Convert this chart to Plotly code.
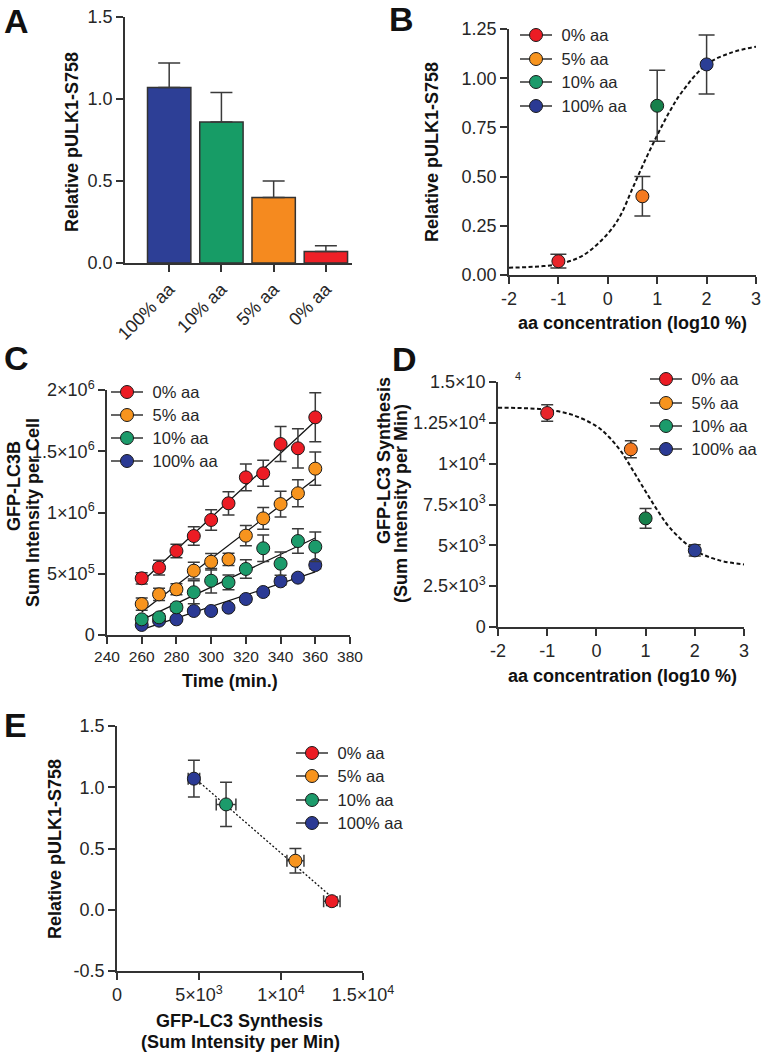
import plotly.graph_objects as go

W, H = 762, 1053
FONT = "Liberation Sans"
INK = "#262626"
AX = "#333333"

# ---------------- data ----------------
conditions = ["0% aa", "5% aa", "10% aa", "100% aa"]
aa_log10 = [-1, 0.7, 1, 2]
colors = ["#EC1C24", "#F7941E", "#1C9B6B", "#2B3A94"]
colors_dark = ["#E8262B", "#F47A20", "#17804B", "#2B3E95"]

# Panel A (bar order)
bar_categories = ["100% aa", "10% aa", "5% aa", "0% aa"]
bar_colors = ["#2D3F96", "#179C66", "#F58A1F", "#EE2027"]
pulk_bar_mean = [1.07, 0.86, 0.40, 0.07]
pulk_bar_sem = [0.15, 0.18, 0.10, 0.035]

# pULK1 by condition (0,5,10,100)
pulk_mean = [0.07, 0.40, 0.86, 1.07]
pulk_sem = [0.035, 0.10, 0.18, 0.15]

# Panel B fitted curve
curveB_x = [-2, -1.5, -1, -0.5, 0, 0.25, 0.5, 0.75, 1, 1.25, 1.5, 2, 2.5, 3]
curveB_y = [0.037, 0.042, 0.055, 0.10, 0.21, 0.30, 0.44, 0.58, 0.71, 0.83, 0.93, 1.07, 1.13, 1.16]

# Panel C time course
time_min = [260, 270, 280, 290, 300, 310, 320, 330, 340, 350, 360]
gfp_0 = [0.463e6, 0.55e6, 0.686e6, 0.808e6, 0.939e6, 1.075e6, 1.287e6, 1.32e6, 1.559e6, 1.524e6, 1.777e6]
gfp_5 = [0.253e6, 0.332e6, 0.373e6, 0.525e6, 0.598e6, 0.618e6, 0.811e6, 0.952e6, 1.069e6, 1.157e6, 1.358e6]
gfp_10 = [0.128e6, 0.144e6, 0.226e6, 0.349e6, 0.443e6, 0.43e6, 0.539e6, 0.708e6, 0.582e6, 0.767e6, 0.721e6]
gfp_100 = [0.082e6, 0.117e6, 0.128e6, 0.196e6, 0.196e6, 0.223e6, 0.294e6, 0.351e6, 0.438e6, 0.468e6, 0.571e6]
sem_0 = [0.046e6, 0.06e6, 0.055e6, 0.075e6, 0.084e6, 0.095e6, 0.109e6, 0.106e6, 0.143e6, 0.16e6, 0.2e6]
sem_5 = [0.05e6, 0.05e6, 0.045e6, 0.068e6, 0.068e6, 0.05e6, 0.082e6, 0.088e6, 0.105e6, 0.11e6, 0.135e6]
sem_10 = [0.03e6, 0.03e6, 0.03e6, 0.093e6, 0.1e6, 0.06e6, 0.075e6, 0.108e6, 0.095e6, 0.1e6, 0.12e6]
sem_100 = [0.015e6, 0.015e6, 0.015e6, 0.02e6, 0.02e6, 0.02e6, 0.025e6, 0.025e6, 0.03e6, 0.02e6, 0.03e6]
fit_time = [260, 360]
fit_0 = [0.433e6, 1.747e6]
fit_5 = [0.187e6, 1.276e6]
fit_10 = [0.124e6, 0.792e6]
fit_100 = [0.043e6, 0.515e6]

# Panel D synthesis rate
synth_mean = [13100, 10880, 6650, 4690]
synth_sem = [500, 520, 600, 350]
curveD_x = [-2, -1.5, -1, -0.5, 0, 0.25, 0.5, 0.75, 1, 1.25, 1.5, 2, 2.5, 3]
curveD_y = [13430, 13400, 13300, 13000, 12300, 11650, 10750, 9550, 8300, 7100, 6050, 4700, 4080, 3830]

# Panel E linear fit (read)
fitE_x = [4690, 13120]
fitE_y = [1.08, 0.10]

# tick labels
A_yticks = [0, 0.5, 1.0, 1.5]
A_yticktext = ["0.0", "0.5", "1.0", "1.5"]
log_ticks = [-2, -1, 0, 1, 2, 3]
log_ticktext = ["-2", "-1", "0", "1", "2", "3"]
B_yticks = [0, 0.25, 0.5, 0.75, 1.0, 1.25]
B_yticktext = ["0.00", "0.25", "0.50", "0.75", "1.00", "1.25"]
C_xticks = [240, 260, 280, 300, 320, 340, 360, 380]
C_yticks = [0, 5e5, 1e6, 1.5e6, 2e6]
C_yticktext = ["0", "5×10<sup>5</sup>", "1×10<sup>6</sup>", "1.5×10<sup>6</sup>", "2×10<sup>6</sup>"]
D_yticks = [0, 2500, 5000, 7500, 10000, 12500, 15000]
D_yticktext = ["0", "2.5×10<sup>3</sup>", "5×10<sup>3</sup>", "7.5×10<sup>3</sup>",
               "1×10<sup>4</sup>", "1.25×10<sup>4</sup>", "1.5×10"]
E_xticks = [0, 5000, 10000, 15000]
E_xticktext = ["0", "5×10<sup>3</sup>", "1×10<sup>4</sup>", "1.5×10<sup>4</sup>"]
E_yticks = [-0.5, 0, 0.5, 1.0, 1.5]
E_yticktext = ["-0.5", "0.0", "0.5", "1.0", "1.5"]

# ---------------- helpers ----------------
def px(x):
    return x / W

def py(y):
    return 1 - y / H

TICK_FS = 18
TICKF = dict(family=FONT, size=TICK_FS, color=INK)

def axis(dom, **kw):
    d = dict(domain=dom, showline=True, linecolor=AX, linewidth=1.5, ticks="outside",
             ticklen=7, tickwidth=1.5, tickcolor=AX, showgrid=False, zeroline=False,
             tickfont=TICKF, fixedrange=True, automargin=False)
    d.update(kw)
    return d

MK_LINE = dict(color="#1a1a1a", width=1)
ERR = dict(color="#3a3a3a", thickness=1.5)

fig = go.Figure()
legend_slots = []  # (legend id, marker x px, marker y px)
leg_counter = [0]

def legend_entry(xa, ya, i, mx, my):
    leg_counter[0] += 1
    n = leg_counter[0]
    lid = "legend" if n == 1 else "legend%d" % n
    legend_slots.append((lid, mx, my))
    fig.add_trace(go.Scatter(
        x=[None], y=[None], mode="lines+markers", xaxis=xa, yaxis=ya,
        name="\u00a0" + conditions[i],
        marker=dict(size=13, color=colors[i], line=MK_LINE),
        line=dict(color="#333", width=1.5), legend=lid))

# ---------------- Panel A ----------------
fig.add_trace(go.Bar(
    x=bar_categories, y=pulk_bar_mean, xaxis="x", yaxis="y",
    marker=dict(color=bar_colors, line=dict(color="#333333", width=1.5)),
    error_y=dict(type="data", array=pulk_bar_sem, arrayminus=[0] * 4, width=11, **ERR),
    showlegend=False, width=0.83))

# ---------------- Panel B ----------------
fig.add_trace(go.Scatter(x=curveB_x, y=curveB_y, mode="lines", xaxis="x2", yaxis="y2",
                         line=dict(color="#111", width=2, dash="4px,2.5px", shape="spline"),
                         showlegend=False))
for i, c in enumerate(conditions):
    fig.add_trace(go.Scatter(
        x=[aa_log10[i]], y=[pulk_mean[i]], mode="markers", xaxis="x2", yaxis="y2",
        marker=dict(size=13, color=colors_dark[i], line=MK_LINE),
        error_y=dict(type="data", array=[pulk_sem[i]], width=8, **ERR),
        showlegend=False, cliponaxis=False))
for i, my in enumerate([35, 59, 82, 106]):
    legend_entry("x2", "y2", i, 536, my)

# ---------------- Panel C ----------------
series = [gfp_0, gfp_5, gfp_10, gfp_100]
sems = [sem_0, sem_5, sem_10, sem_100]
fits = [fit_0, fit_5, fit_10, fit_100]
for i in range(4):
    fig.add_trace(go.Scatter(x=fit_time, y=fits[i], mode="lines", xaxis="x3", yaxis="y3",
                             line=dict(color="#111", width=1.3), showlegend=False))
for i in [3, 2, 1, 0]:
    fig.add_trace(go.Scatter(
        x=time_min, y=series[i], mode="markers", xaxis="x3", yaxis="y3",
        marker=dict(size=13, color=colors[i], line=MK_LINE),
        error_y=dict(type="data", array=sems[i], width=6, **ERR),
        showlegend=False, cliponaxis=False))
for i, my in enumerate([392, 415, 438, 461]):
    legend_entry("x3", "y3", i, 127, my)

# ---------------- Panel D ----------------
fig.add_trace(go.Scatter(x=curveD_x, y=curveD_y, mode="lines", xaxis="x4", yaxis="y4",
                         line=dict(color="#111", width=2, dash="4px,2.5px", shape="spline"),
                         showlegend=False))
for i, c in enumerate(conditions):
    fig.add_trace(go.Scatter(
        x=[aa_log10[i]], y=[synth_mean[i]], mode="markers", xaxis="x4", yaxis="y4",
        marker=dict(size=13, color=colors_dark[i], line=MK_LINE),
        error_y=dict(type="data", array=[synth_sem[i]], width=6, **ERR),
        showlegend=False, cliponaxis=False))
for i, my in enumerate([379, 403, 426, 449]):
    legend_entry("x4", "y4", i, 666, my)

# ---------------- Panel E ----------------
fig.add_trace(go.Scatter(x=fitE_x, y=fitE_y, mode="lines", xaxis="x5", yaxis="y5",
                         line=dict(color="#111", width=1.3, dash="2px,2px"), showlegend=False))
for i, c in enumerate(conditions):
    fig.add_trace(go.Scatter(
        x=[synth_mean[i]], y=[pulk_mean[i]], mode="markers", xaxis="x5", yaxis="y5",
        marker=dict(size=13, color=colors[i], line=MK_LINE),
        error_y=dict(type="data", array=[pulk_sem[i]], width=6, **ERR),
        error_x=dict(type="data", array=[synth_sem[i]], width=6, **ERR),
        showlegend=False, cliponaxis=False))
for i, my in enumerate([753, 776, 800, 823]):
    legend_entry("x5", "y5", i, 312, my)

# ---------------- layout ----------------
LEG_FS = 16.5
LEGF = dict(family=FONT, size=LEG_FS, color=INK)
ITEMW = 32
item_h = LEG_FS * 1.3 + 3
legends = {}
for lid, mx, my in legend_slots:
    legends[lid] = dict(x=px(mx - (ITEMW + 10) / 2), y=py(my - 5 - item_h / 2),
                        xanchor="left", yanchor="top", font=LEGF,
                        bgcolor="rgba(0,0,0,0)", borderwidth=0, itemwidth=ITEMW)

fig.update_layout(
    width=W, height=H, margin=dict(l=0, r=0, t=0, b=0, autoexpand=False),
    paper_bgcolor="white", plot_bgcolor="white",
    font=dict(family=FONT, color=INK),
    bargap=0.17,
    xaxis=axis([px(125), px(352)], type="category", range=[-0.846, 3.5], tickangle=-45,
               anchor="y", categoryorder="array", categoryarray=bar_categories),
    yaxis=axis([py(263), py(17)], range=[0, 1.5], tickvals=A_yticks, ticktext=A_yticktext,
               anchor="x"),
    xaxis2=axis([px(509), px(756)], range=[-2, 3], tickvals=log_ticks, ticktext=log_ticktext,
                anchor="y2"),
    yaxis2=axis([py(275), py(29)], range=[0, 1.25], tickvals=B_yticks, ticktext=B_yticktext,
                anchor="x2"),
    xaxis3=axis([px(107), px(350)], range=[240, 380], tickvals=C_xticks, anchor="y3",
                tickfont=dict(family=FONT, size=15.5, color=INK)),
    yaxis3=axis([py(635), py(390)], range=[0, 2e6], tickvals=C_yticks, ticktext=C_yticktext,
                anchor="x3"),
    xaxis4=axis([px(498), px(744)], range=[-2, 3], tickvals=log_ticks, ticktext=log_ticktext,
                anchor="y4"),
    yaxis4=axis([py(627), py(382)], range=[0, 15000], tickvals=D_yticks, ticktext=D_yticktext,
                anchor="x4"),
    xaxis5=axis([px(117), px(363)], range=[0, 15000], tickvals=E_xticks, ticktext=E_xticktext,
                anchor="y5"),
    yaxis5=axis([py(971), py(726)], range=[-0.5, 1.5], tickvals=E_yticks, ticktext=E_yticktext,
                anchor="x5"),
    **legends,
)

TITLEF = dict(family=FONT, size=18, color="#111")

def ann(text, x, y, angle=0, font=TITLEF, yanchor="middle"):
    fig.add_annotation(text=text, x=px(x), y=py(y), xref="paper", yref="paper",
                       xanchor="center", yanchor=yanchor, showarrow=False,
                       textangle=angle, font=font, borderpad=0)

B = lambda s: "<b>" + s + "</b>"
# axis titles
ann(B("Relative pULK1-S758"), 72, 142, -90)
ann(B("Relative pULK1-S758"), 432, 152, -90)
ann(B("aa concentration (log10 %)"), 632, 323)
ann(B("GFP-LC3B"), 14, 486, -90)
ann(B("Sum Intensity per Cell"), 33, 513, -90)
ann(B("Time (min.)"), 230, 681)
ann(B("GFP-LC3 Synthesis"), 384, 461, -90)
ann(B("(Sum Intensity per Min)"), 401, 504, -90)
ann(B("aa concentration (log10 %)"), 622, 676)
ann(B("Relative pULK1-S758"), 55, 849, -90)
ann(B("GFP-LC3 Synthesis"), 239, 1021)
ann(B("(Sum Intensity per Min)"), 240, 1042)
# stray exponent on D's top tick label
ann("4", 518, 376, font=dict(family=FONT, size=11, color=INK))

# panel letters (glyph tops placed at the reference's cap tops)
LET_FS = 34
LETF = dict(family=FONT, size=LET_FS, color="#111")
for letter, lx, cap_top in [("A", 16, 7), ("B", 402, 5), ("C", 16, 344), ("D", 404, 345), ("E", 15, 711)]:
    ann(B(letter), lx, cap_top - 0.18 * LET_FS, font=LETF, yanchor="top")

fig.write_html("out.html")
